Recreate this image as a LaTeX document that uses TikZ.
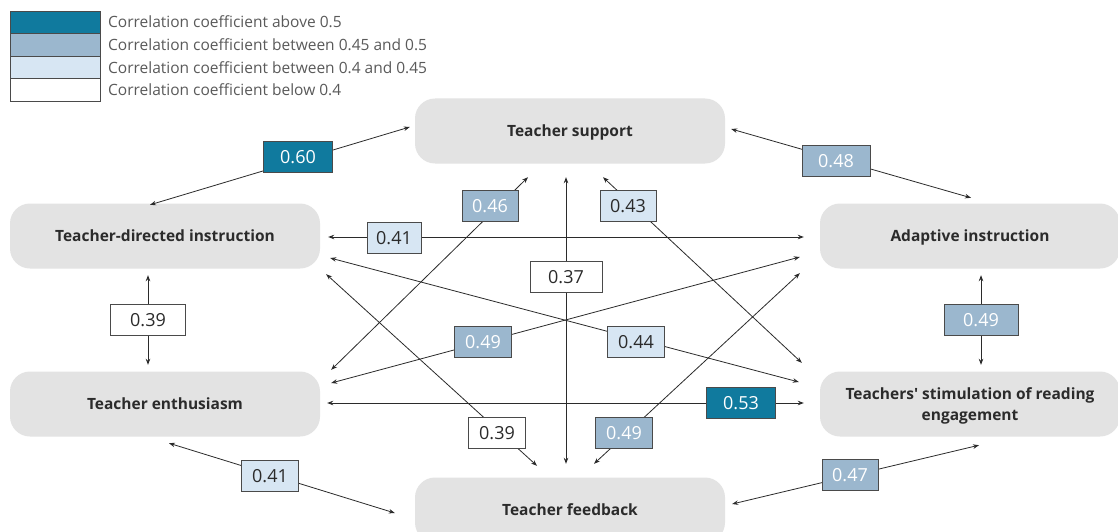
\documentclass[tikz,border=0pt]{standalone}
\usepackage{fontspec}
\setmainfont{Open Sans}
\usepackage{xcolor}
\usepackage{tikz}
\usetikzlibrary{calc,arrows.meta}
\definecolor{CorrTeal}{HTML}{107A9E}
\definecolor{CorrSteel}{HTML}{9BB7CE}
\definecolor{CorrPale}{HTML}{D7E6F3}
\definecolor{CorrPanel}{HTML}{E3E3E3}
\definecolor{CorrInk}{HTML}{2B2B2B}
\definecolor{CorrEdge}{HTML}{4A4A4A}
\definecolor{CorrMuted}{HTML}{5A5A5A}

\begin{document}
\begin{tikzpicture}[x=1pt,y=-1pt,
    panel/.style={fill=CorrPanel,rounded corners=20pt,minimum width=310pt,minimum height=65pt,
      align=center,text=CorrInk,text depth=0pt,font=\fontsize{15.5}{21.5}\selectfont\bfseries},
    coef/.style={draw=CorrEdge,line width=0.8pt,minimum height=31pt,inner sep=0pt,
      font=\fontsize{18}{21}\selectfont},
    link/.style={draw=CorrInk,line width=0.8pt,
      {Stealth[length=6pt,width=4.5pt]}-{Stealth[length=6pt,width=4.5pt]}},
    key/.style={anchor=west,text=CorrMuted,inner sep=0pt,font=\fontsize{15.5}{18}\selectfont}]
    \fill[white] (0,0) rectangle (1118,532);
    \useasboundingbox (0,0) rectangle (1118,532);

    % legend
    \fill[CorrTeal,draw=CorrEdge] (10,11) rectangle (100,33.5);
    \fill[CorrSteel,draw=CorrEdge] (10,33.5) rectangle (100,56);
    \fill[CorrPale,draw=CorrEdge] (10,56) rectangle (100,78.5);
    \fill[white,draw=CorrEdge] (10,78.5) rectangle (100,101);
    \node[key] (keyA) at (108,22) {Correlation coefficient above 0.5};
    \node[key] (keyB) at (108,45) {Correlation coefficient between 0.45 and 0.5};
    \node[key] (keyC) at (108,67.5) {Correlation coefficient between 0.4 and 0.45};
    \node[key] (keyD) at (108,90) {Correlation coefficient below 0.4};

    % practices
    \node[panel] (ts) at (570,131) {Teacher support};
    \node[panel] (tdi) at (165,236) {Teacher-directed instruction};
    \node[panel,minimum width=300pt] (ai) at (970,236) {Adaptive instruction};
    \node[panel] (te) at (165,404) {Teacher enthusiasm};
    \node[panel,minimum width=300pt] (tsr) at (970,404) {Teachers\textquotesingle\ stimulation of reading\\engagement};
    \node[panel] (tf) at (570,510) {Teacher feedback};

    % links
    \draw[link] ($(tdi.north)+(-15,1.5)$) -- ($(ts.west)+(-5,-4)$);
    \draw[link] ($(ts.east)+(6,-2)$) -- ($(ai.north)+(1,-5.5)$);
    \draw[link] ($(tdi.east)+(8,1)$) -- ($(ai.west)+(-16,1)$);
    \draw[link] ($(ts.south)+(-42,13.5)$) -- ($(te.north east)+(11,-1.5)$);
    \draw[link] ($(ts.south)+(33,13.5)$) -- ($(tsr.north west)+(-18,-8.5)$);
    \draw[link] ($(ts.south)+(-4,13.5)$) -- ($(tf.north)+(-4,-13.5)$);
    \draw[link] ($(tdi.south)+(-17,6.5)$) -- ($(te.north)+(-17,-6.5)$);
    \draw[link] ($(ai.south)+(11,6.5)$) -- ($(tsr.north)+(11,-6.5)$);
    \draw[link] ($(te.east)+(11,-21)$) -- ($(ai.west)+(-20,21)$);
    \draw[link] ($(tdi.east)+(10,22)$) -- ($(tsr.west)+(-21,-22)$);
    \draw[link] ($(te.east)+(7,-1)$) -- ($(tsr.west)+(-16,-1)$);
    \draw[link] ($(tdi.south east)+(6,5.5)$) -- ($(tf.north)+(-33,-11.5)$);
    \draw[link] ($(tf.north)+(24,-13.5)$) -- ($(ai.south west)+(-20,4.5)$);
    \draw[link] ($(te.south)+(4,6.5)$) -- ($(tf.west)+(-20,3)$);
    \draw[link] ($(tf.east)+(7,-6)$) -- ($(tsr.south)+(9,8.5)$);

    % coefficients
    \node[coef,fill=CorrTeal,text=white,minimum width=69pt] (c60) at (298,157) {0.60};
    \node[coef,fill=CorrSteel,text=white,minimum width=68pt] (c48) at (836,161) {0.48};
    \node[coef,fill=CorrPale,text=CorrInk,minimum width=54pt] (c41a) at (394,238) {0.41};
    \node[coef,fill=CorrSteel,text=white,minimum width=56pt] (c46) at (490,206) {0.46};
    \node[coef,fill=CorrPale,text=CorrInk,minimum width=56pt] (c43) at (628,206) {0.43};
    \node[coef,fill=white,text=CorrInk,minimum width=72pt] (c37) at (566,277) {0.37};
    \node[coef,fill=white,text=CorrInk,minimum width=75pt] (c39a) at (148,320) {0.39};
    \node[coef,fill=CorrSteel,text=white,minimum width=74pt] (c49a) at (981,320) {0.49};
    \node[coef,fill=CorrSteel,text=white,minimum width=57pt] (c49b) at (483,342) {0.49};
    \node[coef,fill=CorrPale,text=CorrInk,minimum width=57pt] (c44) at (636,342) {0.44};
    \node[coef,fill=CorrTeal,text=white,minimum width=69pt] (c53) at (741,403) {0.53};
    \node[coef,fill=white,text=CorrInk,minimum width=57pt] (c39b) at (497,433) {0.39};
    \node[coef,fill=CorrSteel,text=white,minimum width=57pt] (c49c) at (624,433) {0.49};
    \node[coef,fill=CorrPale,text=CorrInk,minimum width=57pt] (c41b) at (270,476) {0.41};
    \node[coef,fill=CorrSteel,text=white,minimum width=56pt] (c47) at (850,475) {0.47};
  \end{tikzpicture}
\end{document}
